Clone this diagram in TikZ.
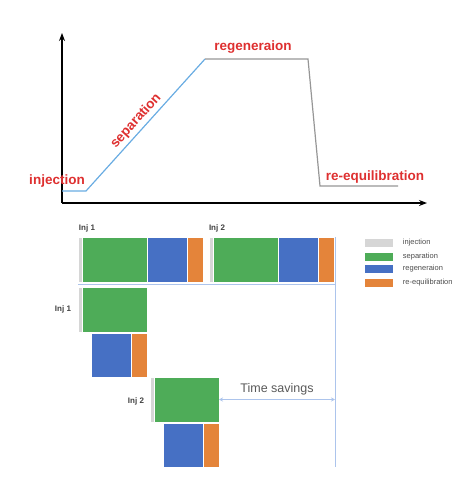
\documentclass[tikz,border=0pt]{standalone}
\usepackage{fontspec}
\setmainfont{Liberation Sans}
\usetikzlibrary{arrows.meta,positioning}
\definecolor{injgray}{RGB}{214,214,214}
\definecolor{sepgreen}{RGB}{78,172,88}
\definecolor{regblue}{RGB}{70,112,196}
\definecolor{eqorange}{RGB}{228,132,58}
\definecolor{labelred}{RGB}{222,48,48}
\definecolor{ramp}{RGB}{105,172,226}
\definecolor{plateau}{RGB}{150,150,150}
\definecolor{guide}{RGB}{172,196,236}

\begin{document}
\begin{tikzpicture}[x=1pt, y=-1pt,
        axis/.style={-{Stealth[length=8pt, width=6pt]}, line width=1.4pt},
        phase/.style={font=\bfseries\fontsize{13.5}{15}\selectfont, text=labelred},
        bar/.style={draw=white, line width=0.5pt, anchor=north west, inner sep=0pt, outer sep=0pt, minimum height=45pt},
        tag/.style={font=\bfseries\fontsize{8}{9}\selectfont, text=black!75},
        key/.style={font=\fontsize{7.5}{9}\selectfont, text=black!70, anchor=west},
        swatch/.style={draw=white, anchor=north west, inner sep=0pt, minimum width=29pt, minimum height=9pt}]
    \useasboundingbox (0,0) rectangle (469,501);

    % Gradient profile
    \coordinate (origin) at (62,203);
    \coordinate (ytip) at (62,33);
    \coordinate (xtip) at (427,203);
    \coordinate (p0) at (62,191);
    \coordinate (p1) at (86,191);
    \coordinate (p2) at (205,59);
    \coordinate (p3) at (308,59);
    \coordinate (p4) at (320,186);
    \coordinate (p5) at (398,186);

    \draw[axis] (origin) -- (ytip);
    \draw[axis] (origin) -- (xtip);
    \draw[ramp, line width=1.2pt] (p0) -- (p1) -- (p2);
    \draw[plateau, line width=1.2pt] (p2) -- (p3) -- (p4) -- (p5);

    \node[phase] (injl) at (57,181) {injection};
    \node[phase, rotate=48] (sepl) at (136,121) {separation};
    \node[phase] (regl) at (253,47) {regeneraion};
    \node[phase] (eql) at (375,177) {re-equilibration};

    % Serial injections
    \node[tag] (inj1) at (87,228) {Inj 1};
    \node[tag] (inj2) at (217,228) {Inj 2};
    \node[bar, fill=injgray, minimum width=4pt] (i1) at (78,237) {};
    \node[bar, fill=sepgreen, minimum width=65pt] (s1) at (82,237) {};
    \node[bar, fill=regblue, minimum width=40pt] (r1) at (147,237) {};
    \node[bar, fill=eqorange, minimum width=16pt] (e1) at (187,237) {};
    \node[bar, fill=injgray, minimum width=4pt] (i2) at (209,237) {};
    \node[bar, fill=sepgreen, minimum width=65pt] (s2) at (213,237) {};
    \node[bar, fill=regblue, minimum width=40pt] (r2) at (278,237) {};
    \node[bar, fill=eqorange, minimum width=16pt] (e2) at (318,237) {};

    \coordinate (vtop) at (335,237);
    \coordinate (vbot) at (335,467);
    \coordinate (hleft) at (78,284);
    \draw[guide, line width=1pt] (hleft) -- (hleft -| vtop);
    \draw[guide, line width=1pt] (vtop) -- (vbot);

    % Overlapped injections
    \node[tag] (inj3) at (63,309) {Inj 1};
    \node[bar, fill=injgray, minimum width=4pt] (i3) at (78,287) {};
    \node[bar, fill=sepgreen, minimum width=65pt] (s3) at (82,287) {};
    \node[bar, fill=regblue, minimum width=40pt, minimum height=44pt] (r3) at (91,333) {};
    \node[bar, fill=eqorange, minimum width=16pt, minimum height=44pt] (e3) at (131,333) {};

    \node[tag] (inj4) at (136,401) {Inj 2};
    \node[bar, fill=injgray, minimum width=4pt] (i4) at (150,377) {};
    \node[bar, fill=sepgreen, minimum width=65pt] (s4) at (154,377) {};
    \node[bar, fill=regblue, minimum width=40pt, minimum height=44pt] (r4) at (163,423) {};
    \node[bar, fill=eqorange, minimum width=16pt, minimum height=44pt] (e4) at (203,423) {};

    \draw[guide, line width=0.8pt, {Stealth[length=4pt, width=4pt]}-{Stealth[length=4pt, width=4pt]}] (s4.east) -- (s4.east -| vtop);
    \node[font=\fontsize{12.5}{14}\selectfont, text=black!65] (save) at (277,389) {Time savings};

    % Legend
    \node[swatch, fill=injgray] (k1) at (364,238) {};
    \node[swatch, fill=sepgreen] (k2) at (364,252) {};
    \node[swatch, fill=regblue] (k3) at (364,264) {};
    \node[swatch, fill=eqorange] (k4) at (364,278) {};
    \node[key] at ([xshift=6pt]k1.east) {injection};
    \node[key] at ([xshift=6pt]k2.east) {separation};
    \node[key] at ([xshift=6pt]k3.east) {regeneraion};
    \node[key] at ([xshift=6pt]k4.east) {re-equilibration};
\end{tikzpicture}
\end{document}
